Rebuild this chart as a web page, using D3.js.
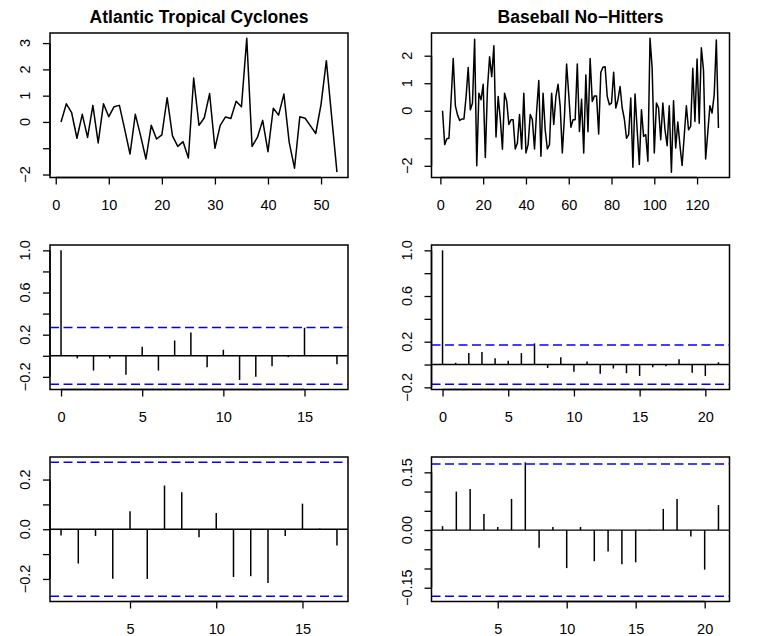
<!DOCTYPE html>
<html>
<head>
<meta charset="utf-8">
<script src="https://cdn.jsdelivr.net/npm/d3@7"></script>
<style>
  html, body { margin: 0; padding: 0; background: #fff; }
  svg { display: block; font-family: "Liberation Sans", Arial, Helvetica, sans-serif; }
</style>
</head>
<body>
<svg id="chart" width="763" height="636"></svg>
<script>
// ---------------- DATA ----------------
const titles = ["Atlantic Tropical Cyclones", "Baseball No\u2212Hitters"];

const cycloneSeries = [0, 0.69, 0.35, -0.62, 0.29, -0.59, 0.63, -0.8, 0.69, 0.2,
  0.58, 0.63, -0.28, -1.22, 0.29, -0.53, -1.41, -0.13, -0.65, -0.49,
  0.92, -0.53, -0.93, -0.75, -1.37, 1.67, -0.13, 0.16, 1.08, -1.0,
  -0.13, 0.19, 0.13, 0.79, 0.58, 3.18, -0.93, -0.59, 0.06, -1.13,
  0.52, 0.26, 1.06, -0.78, -1.76, 0.2, 0.14, -0.15, -0.44, 0.67,
  2.33, 0.2, -1.91];

const baseballSeries = [0.0, -1.23, -1.02, -1.0, 0.4, 1.9, 0.18, -0.15, -0.35, -0.3,
  -0.3, 0.5, 1.57, 0.04, 0.28, 2.6, -2.0, 0.64, 0.4, 0.96,
  -1.7, 0.8, 1.96, 1.24, 2.36, -0.95, 0.52, -0.3, -1.4, 0.64,
  0.34, -0.5, -0.33, -0.33, -1.39, -1.17, -0.14, -1.39, 0.64, -1.53,
  -1.23, -0.14, -0.33, -1.39, 0.0, 1.1, -1.65, 0.64, -0.7, -1.39,
  -1.23, 0.64, -0.5, 0.52, 0.96, 0.16, -1.53, -0.2, 1.7, 0.6,
  -0.6, -0.33, -0.33, 1.7, -0.75, 0.42, -1.53, 1.3, -0.76, 1.9,
  0.34, 0.54, 0.54, -0.84, 1.4, 1.58, 1.6, 0.52, 0.22, 0.28,
  1.4, 0.1, 0.4, 0.88, 0.1, -0.3, -1.0, -0.87, 0.46, -2.05,
  0.61, -0.7, -1.95, 0.04, -0.93, -0.87, -1.83, 2.63, 1.54, -1.53,
  0.28, 0.1, -1.05, 0.28, -0.69, -1.27, 0.18, -2.23, 0.36, -1.35,
  -0.41, -1.27, -1.99, -0.9, 0.18, -0.69, -0.57, 1.54, -0.39, 1.88,
  -0.45, 2.29, 1.48, -1.75, -0.8, 0.18, -0.08, 0.58, 2.57, -0.63];

const cycloneAcf = [1.0, -0.025, -0.14, -0.025, -0.18, 0.085, -0.14, 0.145, 0.22, -0.11,
  0.057, -0.23, -0.2, -0.1, -0.013, 0.266, 0.003, -0.08];
const baseballAcf = [1.0, 0.015, 0.10, 0.11, 0.055, 0.032, 0.10, 0.185, -0.03, 0.064,
  -0.064, 0.026, -0.08, -0.035, -0.076, -0.10, -0.023, -0.015, 0.047, -0.073,
  -0.10, 0.02];

const cyclonePacf = [-0.025, -0.138, -0.027, -0.199, 0.072, -0.2, 0.176, 0.149, -0.032, 0.065,
  -0.192, -0.189, -0.216, -0.027, 0.103, 0.003, -0.065];
const baseballPacf = [0.010, 0.10, 0.107, 0.042, 0.008, 0.081, 0.176, -0.046, 0.008, -0.099,
  0.008, -0.081, -0.056, -0.089, -0.084, 0.001, 0.055, 0.081, -0.017, -0.103,
  0.065];

const cycloneN = 53, baseballN = 130;

// tick values and which labels R shows
const tsXTicks = [[0, 10, 20, 30, 40, 50], [0, 20, 40, 60, 80, 100, 120]];
const tsYTicks = [-2, -1, 0, 1, 2, 3];
const tsYLabels = [[3, 2, 1, 0, -2], [2, 1, 0, -2]];
const acfYTicks = [-0.2, 0, 0.2, 0.4, 0.6, 0.8, 1.0];
const acfYLabels = [1.0, 0.6, 0.2, -0.2];
const acfXTicks = [[0, 5, 10, 15], [0, 5, 10, 15, 20]];
const pacfYTicks = [[-0.2, -0.1, 0, 0.1, 0.2], [-0.15, -0.10, -0.05, 0, 0.05, 0.10, 0.15]];
const pacfYLabels = [[0.2, 0.0, -0.2], [0.15, 0.00, -0.15]];
const pacfYFmt = [1, 2];
const pacfXTicks = [[5, 10, 15], [5, 10, 15, 20]];

// ---------------- LAYOUT ----------------
const svg = d3.select("#chart");
const W = 763, H = 636;
const colW = W / 2, rowH = H / 3;
const mar = { left: 50, right: 33.5, top: 33, bottom: 34.5 };
const fontTick = 14.5;

function fmtMinus(s) { return String(s).replace("-", "\u2212"); }

function rExtend(lo, hi) { const d = (hi - lo) * 0.04; return [lo - d, hi + d]; }

function panel(col, row) {
  const x0 = col * colW + mar.left, x1 = (col + 1) * colW - mar.right;
  const y0 = row * rowH + mar.top, y1 = (row + 1) * rowH - mar.bottom;
  return { x0, x1, y0, y1 };
}

function drawFrame(p, xs, ys, xTicks, yTicks, yLabels, yFmt) {
  const g = svg.append("g");
  // box
  g.append("rect").attr("x", p.x0).attr("y", p.y0)
    .attr("width", p.x1 - p.x0).attr("height", p.y1 - p.y0)
    .attr("fill", "none").attr("stroke", "#000").attr("stroke-width", 1.5);
  // x axis
  const xa = g.append("g").attr("transform", `translate(0,${p.y1})`)
    .call(d3.axisBottom(xs).tickValues(xTicks).tickSize(7).tickSizeOuter(0).tickPadding(15)
      .tickFormat(d => fmtMinus(d3.format("d")(d))));
  xa.select(".domain").attr("stroke-width", 1.5)
    .attr("d", `M${xs(xTicks[0])},0H${xs(xTicks[xTicks.length - 1])}`);
  xa.selectAll(".tick line").attr("stroke-width", 1.3);
  xa.selectAll(".tick text").attr("font-size", fontTick).attr("fill", "#000")
    .attr("font-family", "Liberation Sans, Arial, sans-serif");
  // y axis
  const ya = g.append("g").attr("transform", `translate(${p.x0},0)`)
    .call(d3.axisLeft(ys).tickValues(yTicks).tickSize(7).tickSizeOuter(0).tickFormat(""));
  ya.select(".domain").attr("stroke-width", 1.5)
    .attr("d", `M0,${ys(yTicks[0])}V${ys(yTicks[yTicks.length - 1])}`);
  ya.selectAll(".tick line").attr("stroke-width", 1.3);
  g.selectAll(".ylab").data(yLabels).enter().append("text")
    .attr("transform", d => `translate(${p.x0 - 20},${ys(d)}) rotate(-90)`)
    .attr("text-anchor", "middle").attr("font-size", fontTick).attr("fill", "#000")
    .text(d => fmtMinus(d3.format(`.${yFmt}f`)(d)));
  g.selectAll(".domain").attr("stroke", "#000");
  g.selectAll(".tick line").attr("stroke", "#000");
  return g;
}

// ---------------- ROW 1: time series ----------------
[[cycloneSeries, 0], [baseballSeries, 1]].forEach(([series, col]) => {
  const p = panel(col, 0);
  const xs = d3.scaleLinear().domain(rExtend(1, series.length)).range([p.x0, p.x1]);
  const ys = d3.scaleLinear().domain(rExtend(d3.min(series), d3.max(series))).range([p.y1, p.y0]);
  const g = drawFrame(p, xs, ys, tsXTicks[col], tsYTicks.filter(t => ys.domain()[0] <= t && t <= ys.domain()[1]), tsYLabels[col], 0);
  g.append("path").datum(series)
    .attr("d", d3.line().x((d, i) => xs(i + 1)).y(d => ys(d)))
    .attr("fill", "none").attr("stroke", "#000").attr("stroke-width", 1.5)
    .attr("stroke-linejoin", "round");
  svg.append("text").attr("x", (p.x0 + p.x1) / 2).attr("y", 23.3)
    .attr("text-anchor", "middle").attr("font-weight", "bold").attr("font-size", 17.5)
    .attr("fill", "#000").text(titles[col]);
});

// ---------------- ROW 2: ACF ----------------
function drawSpikes(g, xs, ys, vals, lag0, p, n) {
  const ci = 1.96 / Math.sqrt(n);
  g.append("line").attr("x1", p.x0).attr("x2", p.x1).attr("y1", ys(0)).attr("y2", ys(0))
    .attr("stroke", "#000").attr("stroke-width", 1.3);
  g.selectAll(".spike").data(vals).enter().append("line")
    .attr("x1", (d, i) => xs(i + lag0)).attr("x2", (d, i) => xs(i + lag0))
    .attr("y1", ys(0)).attr("y2", d => ys(d))
    .attr("stroke", "#000").attr("stroke-width", 1.5);
  [ci, -ci].forEach(c => {
    g.append("line").attr("x1", p.x0).attr("x2", p.x1).attr("y1", ys(c)).attr("y2", ys(c))
      .attr("stroke", "#0000ff").attr("stroke-width", 1.5).attr("stroke-dasharray", "9,4.5");
  });
}

[[cycloneAcf, cycloneN, 0], [baseballAcf, baseballN, 1]].forEach(([acf, n, col]) => {
  const p = panel(col, 1);
  const ci = 1.96 / Math.sqrt(n);
  const xs = d3.scaleLinear().domain(rExtend(0, acf.length - 1)).range([p.x0, p.x1]);
  const ys = d3.scaleLinear().domain(rExtend(Math.min(-ci, d3.min(acf)), 1)).range([p.y1, p.y0]);
  const g = drawFrame(p, xs, ys, acfXTicks[col], acfYTicks, acfYLabels, 1);
  drawSpikes(g, xs, ys, acf, 0, p, n);
});

// ---------------- ROW 3: PACF ----------------
[[cyclonePacf, cycloneN, 0], [baseballPacf, baseballN, 1]].forEach(([pacf, n, col]) => {
  const p = panel(col, 2);
  const ci = 1.96 / Math.sqrt(n);
  const xs = d3.scaleLinear().domain(rExtend(1, pacf.length)).range([p.x0, p.x1]);
  const ys = d3.scaleLinear().domain(rExtend(Math.min(-ci, d3.min(pacf)), Math.max(ci, d3.max(pacf)))).range([p.y1, p.y0]);
  const g = drawFrame(p, xs, ys, pacfXTicks[col], pacfYTicks[col], pacfYLabels[col], pacfYFmt[col]);
  drawSpikes(g, xs, ys, pacf, 1, p, n);
});
</script>
</body>
</html>
